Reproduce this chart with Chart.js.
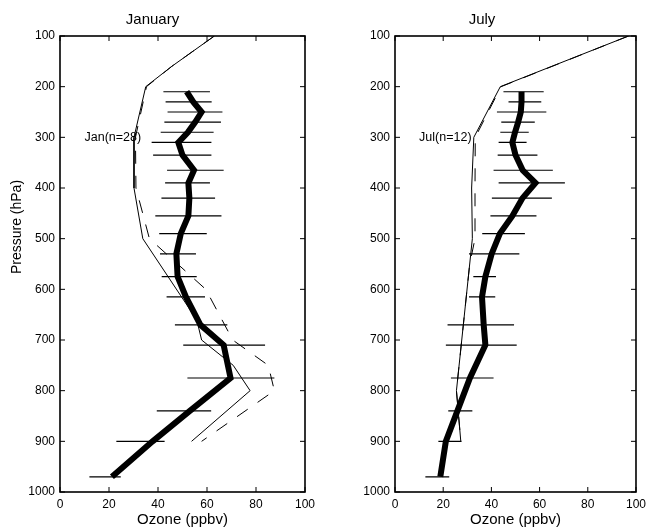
<!DOCTYPE html>
<html>
<head>
<meta charset="utf-8">
<title>Ozone profiles, January and July</title>
<script src="https://cdn.jsdelivr.net/npm/chart.js@4.4.1/dist/chart.umd.min.js"></script>
<style>
  body { margin: 0; background: #fff; }
  #wrap { position: relative; width: 651px; height: 528px; }
  canvas { position: absolute; top: 0; }
  #jan { left: 0; }
  #jul { left: 325px; }
</style>
</head>
<body>
<div id="wrap">
  <canvas id="jan" width="325" height="528"></canvas>
  <canvas id="jul" width="326" height="528"></canvas>
</div>
<script>
// pressure levels (hPa) of the mean profile + error bars
const levels = [210, 230, 250, 270, 290, 310, 335, 365, 390, 420, 455, 490, 530, 575, 615, 670, 710, 775, 840, 900, 970];

// January, mean ozone (ppbv) and bar ends
const janMean = [51.7, 54.4, 57.8, 55.2, 52.2, 48.3, 50.0, 54.7, 52.4, 52.8, 52.4, 49.3, 47.5, 48.0, 51.4, 57.3, 66.8, 69.6, 53.0, 37.8, 21.2];
const janLow  = [42.2, 43.1, 43.9, 42.6, 41.1, 37.4, 38.0, 43.7, 42.9, 41.4, 38.9, 40.5, 40.8, 41.5, 43.5, 46.9, 50.3, 52.0, 39.5, 23.0, 12.0];
const janHigh = [61.2, 61.9, 66.3, 65.7, 62.7, 61.8, 61.8, 66.8, 61.2, 63.3, 65.9, 59.9, 55.5, 55.8, 59.2, 68.3, 83.7, 87.5, 61.7, 42.7, 24.8];

// January model profiles (thin solid, dashed)
const janThinP = [100, 160, 200, 300, 400, 500, 660, 700, 750, 800, 900];
const janThin  = [63.0, 45.6, 35.0, 30.2, 30.2, 33.8, 55.8, 57.8, 70.7, 77.6, 53.7];
const janDashP = [100, 160, 200, 300, 400, 500, 600, 700, 750, 800, 900];
const janDash  = [63.0, 45.6, 35.3, 30.8, 31.0, 36.5, 59.5, 70.5, 85.0, 87.5, 57.8];

// July
const julMean = [52.5, 52.5, 52.2, 51.1, 49.8, 48.7, 50.0, 53.0, 58.3, 52.9, 48.7, 43.5, 40.1, 37.5, 36.1, 36.8, 37.5, 31.1, 25.9, 21.1, 18.8];
const julLow  = [45.0, 47.1, 42.3, 44.1, 43.7, 43.0, 42.6, 40.9, 43.0, 40.2, 39.6, 36.2, 30.7, 32.5, 30.7, 21.8, 21.1, 23.2, 22.1, 18.0, 12.6];
const julHigh = [61.7, 60.7, 62.8, 58.0, 55.5, 54.6, 59.1, 65.5, 70.5, 65.1, 58.7, 53.9, 51.6, 41.9, 41.6, 49.4, 50.5, 40.9, 32.1, 27.6, 22.5];

const julThinP = [100, 200, 300, 400, 500, 800, 900];
const julThin  = [96.9, 43.7, 32.7, 31.8, 32.1, 25.5, 27.3];
const julDashP = [100, 200, 300, 400, 500, 550, 800, 900];
const julDash  = [96.9, 44.0, 33.3, 33.2, 33.2, 31.0, 25.5, 27.3];

const xTicks = [0, 20, 40, 60, 80, 100];
const yTicks = [100, 200, 300, 400, 500, 600, 700, 800, 900, 1000];

Chart.defaults.font.family = "'Liberation Sans', Arial, sans-serif";
Chart.defaults.color = '#000';

function pts(ps, vs) { return ps.map((p, i) => ({ x: vs[i], y: p })); }

function bars(lo, hi) {
  const out = [];
  levels.forEach((p, i) => { out.push({ x: lo[i], y: p }, { x: hi[i], y: p }, { x: null, y: null }); });
  return out;
}

// box round the plot with inward ticks on all four sides, plus the n= note
const frame = {
  id: 'frame',
  beforeDatasetsDraw(chart, args, o) {
    const { ctx, scales: { x, y } } = chart;
    ctx.save();
    ctx.font = "12.5px 'Liberation Sans', Arial, sans-serif";
    ctx.fillStyle = '#000';
    ctx.textBaseline = 'middle';
    ctx.fillText(o.note, x.getPixelForValue(10), y.getPixelForValue(300));
    ctx.restore();
  },
  afterDatasetsDraw(chart, args, o) {
    const { ctx, chartArea: a, scales: { x, y } } = chart;
    ctx.save();
    ctx.strokeStyle = '#000';
    ctx.lineWidth = 1;
    ctx.beginPath();
    xTicks.forEach(v => {
      const px = x.getPixelForValue(v);
      ctx.moveTo(px, a.bottom); ctx.lineTo(px, a.bottom - 5);
      ctx.moveTo(px, a.top); ctx.lineTo(px, a.top + 5);
    });
    yTicks.forEach(v => {
      const py = y.getPixelForValue(v);
      ctx.moveTo(a.left, py); ctx.lineTo(a.left + 5, py);
      ctx.moveTo(a.right, py); ctx.lineTo(a.right - 5, py);
    });
    ctx.stroke();
    ctx.lineWidth = 1.6;
    ctx.strokeRect(a.left, a.top, a.right - a.left, a.bottom - a.top);
    if (o.yTitle) {
      ctx.font = "14px 'Liberation Sans', Arial, sans-serif";
      ctx.fillStyle = '#000';
      ctx.textAlign = 'center';
      ctx.textBaseline = 'middle';
      ctx.translate(17, 227);
      ctx.rotate(-Math.PI / 2);
      ctx.fillText(o.yTitle, 0, 0);
    }
    ctx.restore();
  }
};

function makeChart(id, title, note, mean, lo, hi, thinP, thin, dashP, dash, axisW, padRight, yTitle) {
  return new Chart(document.getElementById(id), {
    type: 'scatter',
    data: {
      datasets: [
        { data: pts(levels, mean), showLine: true, borderColor: '#000', borderWidth: 6,
          borderJoinStyle: 'miter', borderCapStyle: 'butt', pointRadius: 0 },
        { data: pts(dashP, dash), showLine: true, borderColor: '#000', borderWidth: 1,
          borderDash: [13, 12], pointRadius: 0 },
        { data: pts(thinP, thin), showLine: true, borderColor: '#000', borderWidth: 1, pointRadius: 0 },
        { data: bars(lo, hi), showLine: true, spanGaps: false, borderColor: '#000', borderWidth: 1.2, pointRadius: 0 }
      ]
    },
    options: {
      responsive: false,
      animation: false,
      layout: { padding: { left: 0, right: padRight, top: 0, bottom: 0 } },
      plugins: {
        legend: { display: false },
        tooltip: { enabled: false },
        title: { display: true, text: title, font: { size: 15, weight: 'normal' }, padding: { top: 11, bottom: 7 }, color: '#000' },
        frame: { note: note, yTitle: yTitle }
      },
      scales: {
        x: {
          type: 'linear', min: 0, max: 100,
          grid: { display: false, drawTicks: false },
          border: { display: false },
          ticks: { stepSize: 20, padding: 5, font: { size: 12 }, maxRotation: 0, callback: v => String(v) },
          title: { display: true, text: 'Ozone (ppbv)', font: { size: 15, lineHeight: 1 }, padding: { top: 0, bottom: 0.5 } },
          afterFit(s) { s.height = 36; }
        },
        y: {
          type: 'linear', min: 100, max: 1000, reverse: true,
          grid: { display: false, drawTicks: false },
          border: { display: false },
          ticks: { stepSize: 100, padding: 5, font: { size: 12 }, callback: v => String(v) },
          afterFit(s) { s.width = axisW; }
        }
      }
    },
    plugins: [frame]
  });
}

makeChart('jan', 'January', 'Jan(n=28)', janMean, janLow, janHigh, janThinP, janThin, janDashP, janDash, 60, 20, 'Pressure (hPa)');
makeChart('jul', 'July', 'Jul(n=12)', julMean, julLow, julHigh, julThinP, julThin, julDashP, julDash, 70, 12, null);
</script>
</body>
</html>
